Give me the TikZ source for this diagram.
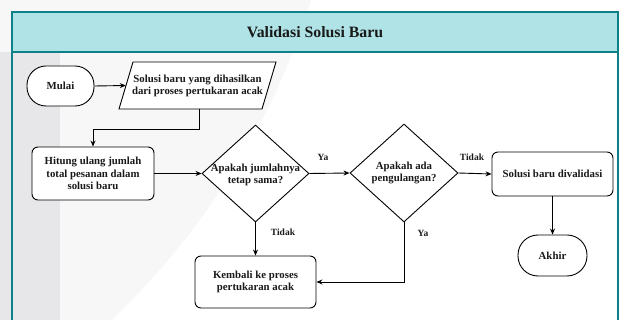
\documentclass[tikz,border=0pt]{standalone}
\usepackage{fontspec}
\setmainfont{Liberation Serif}
\usetikzlibrary{shapes.geometric,arrows.meta}
\definecolor{teal}{HTML}{0E8088}
\definecolor{titlefill}{HTML}{B0E3E6}
\definecolor{wmlight}{HTML}{F7F7F7}
\definecolor{wmdark}{HTML}{E7E7EA}
\begin{document}
\begin{tikzpicture}[x=1pt,y=-1pt,
  every node/.style={font=\bfseries\fontsize{10.8}{12.6}\selectfont, text=black!90},
  box/.style={draw, line width=0.9pt, rounded corners=6pt, fill=white, align=center, inner sep=0pt},
  term/.style={draw, line width=0.9pt, rounded corners=19pt, fill=white, inner sep=0pt},
  dia/.style={draw, diamond, line width=0.9pt, fill=white, inner sep=0pt, aspect=1.1},
  txt/.style={align=center, inner sep=0pt},
  lbl/.style={inner sep=0pt, font=\bfseries\fontsize{9.5}{11}\selectfont},
  arr/.style={draw, line width=0.9pt, -{Stealth[length=6pt,width=5pt]}},
]
\useasboundingbox (0,0) rectangle (625,320);
% watermark background
\begin{scope}
\clip (0,0) rectangle (625,320);
\fill[wmlight] (-403,-223) circle[radius=748];
\fill[wmdark] (0,52) rectangle (60,320);
\end{scope}
% frame
\begin{scope}
\clip (0,0) rectangle (625,320);
\draw[teal, line width=1.5pt] (12,12) rectangle (618,330);
\fill[titlefill] (12,12) rectangle (618,52);
\draw[teal, line width=1.5pt] (12,12) rectangle (618,52);
\draw[teal, line width=1.5pt] (12,52) -- (12,330) (618,52) -- (618,330);
\end{scope}
\node[inner sep=0pt, font=\bfseries\fontsize{15.8}{18}\selectfont] (title) at (315,32) {Validasi Solusi Baru};

% nodes
\node[term, minimum width=67pt, minimum height=40pt] (mulai) at (60.5,86) {Mulai};
\node[inner sep=0pt, minimum width=143pt, minimum height=47pt] (para) at (197.5,85.5) {};
\draw[line width=0.9pt, fill=white] (133,62) -- (276,62) -- (262,109) -- (119,109) -- cycle;
\node[txt] (paratxt) at (197.5,86) {Solusi baru yang dihasilkan\\dari proses pertukaran acak};

\node[box, minimum width=122pt, minimum height=53pt] (hitung) at (93,173.5) {Hitung ulang jumlah\\total pesanan dalam\\solusi baru};

\node[dia, minimum width=107pt, minimum height=97pt] (d1) at (255.5,173.5) {};
\node[txt] (d1txt) at (255.5,175) {Apakah jumlahnya\\tetap sama?};

\node[dia, minimum width=108pt, minimum height=98pt] (d2) at (404,173) {};
\node[txt] (d2txt) at (404,173) {Apakah ada\\pengulangan?};

\node[box, minimum width=121pt, minimum height=44pt] (valid) at (552.5,174) {Solusi baru divalidasi};
\node[term, minimum width=69pt, minimum height=41pt, rounded corners=20pt] (akhir) at (552.5,255.5) {Akhir};

\node[box, minimum width=121pt, minimum height=52pt] (kembali) at (255.5,282) {Kembali ke proses\\pertukaran acak};

% connectors
\path[arr] (mulai.east) -- (para.west);
\coordinate (c1) at (199,109);
\path[arr] (c1) -- (199,129) -| (hitung.north);
\path[arr] (hitung.east) -- (d1.west);
\path[arr] (d1.east) -- (d2.west);
\path[arr] (d2.east) -- (valid.west);
\path[arr] (valid.south) -- (akhir.north);
\path[arr] (d1.south) -- (kembali.north);
\path[arr] (d2.south) |- (kembali.east);

% labels
\node[lbl] (ya1) at (323,157) {Ya};
\node[lbl] (tidak1) at (472,157) {Tidak};
\node[lbl] (tidak2) at (283,232) {Tidak};
\node[lbl] (ya2) at (423,233) {Ya};
\end{tikzpicture}
\end{document}
